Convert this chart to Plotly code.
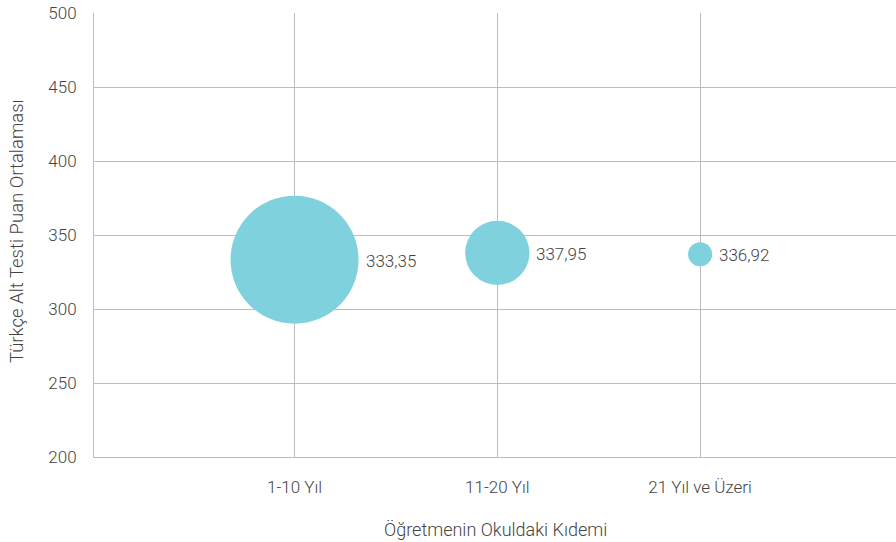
import math
import plotly.graph_objects as go

categories = ["1-10 Yıl", "11-20 Yıl", "21 Yıl ve Üzeri"]
scores = [333.35, 337.95, 336.92]
weights = [70.6, 17.8, 2.5]  # relative group share (bubble area)
labels = ["333,35", "337,95", "336,92"]
y_ticks = [200, 250, 300, 350, 400, 450, 500]

max_diam = 128
sizeref = 2 * max(weights) / (max_diam ** 2)
label_gap = 7

fig = go.Figure()
fig.add_trace(go.Scatter(
    x=categories,
    y=scores,
    mode="markers",
    marker=dict(size=weights, sizemode="area", sizeref=sizeref,
                color="#80D1DE", line=dict(width=0), opacity=1),
    hoverinfo="skip",
    cliponaxis=False,
))

annotations = []
for cat, sc, w, lab in zip(categories, scores, weights, labels):
    radius = math.sqrt(2 * w / sizeref) / 2
    annotations.append(dict(
        x=cat, y=sc, xref="x", yref="y", text=lab, showarrow=False,
        xanchor="left", yanchor="middle", xshift=radius + label_gap - 2, yshift=-1,
        font=dict(family="Roboto", size=17, color="#444444", weight=300),
    ))

annotations += [
    dict(text="Öğretmenin Okuldaki Kıdemi", xref="paper", yref="paper",
         x=0.5, y=-0.1644, xanchor="center", yanchor="middle",
         showarrow=False,
         font=dict(family="Roboto", size=18, color="#444444", weight=300)),
    dict(text="Türkçe Alt Testi Puan Ortalaması", xref="paper", yref="paper",
         x=-0.096, y=0.509, xanchor="center", yanchor="middle",
         textangle=-90, showarrow=False,
         font=dict(family="Roboto", size=18.5, color="#444444", weight=300)),
]

fig.update_layout(
    width=896, height=542,
    margin=dict(l=94, r=0, t=13, b=85),
    plot_bgcolor="white", paper_bgcolor="white",
    showlegend=False,
    font=dict(family="Roboto", color="#444444"),
    annotations=annotations,
)
fig.update_xaxes(
    type="category",
    range=[-0.989, 2.966],
    automargin=False,
    showgrid=True, gridcolor="#BDBDBD", gridwidth=1,
    showline=True, linecolor="#BDBDBD", linewidth=1,
    ticks="", ticklabelstandoff=15,
    tickfont=dict(family="Roboto", size=17, color="#444444", weight=300),
    zeroline=False,
)
fig.update_yaxes(
    range=[200, 500],
    tickvals=y_ticks,
    automargin=False,
    showgrid=True, gridcolor="#BDBDBD", gridwidth=1,
    showline=True, linecolor="#BDBDBD", linewidth=1,
    ticks="", ticklabelstandoff=13,
    tickfont=dict(family="Roboto", size=17, color="#444444", weight=300),
    zeroline=False,
)

fig.write_html("out.html",
               config={"displayModeBar": False},
               post_script="document.body.style.margin='0';document.body.style.overflow='hidden';")
